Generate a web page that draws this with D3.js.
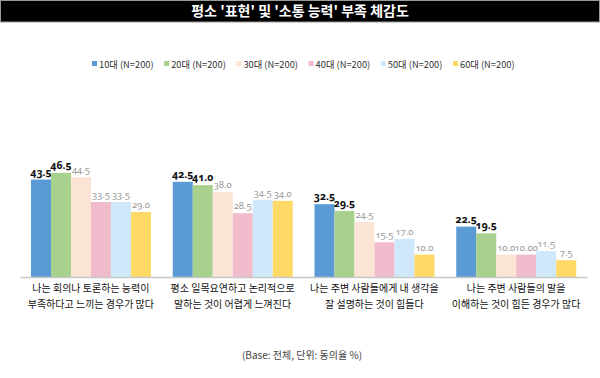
<!DOCTYPE html>
<html><head><meta charset="utf-8">
<script src="https://cdn.jsdelivr.net/npm/d3@7"></script>
<style>
html,body{margin:0;padding:0;background:#fff;}
svg{display:block;font-family:"Noto Sans CJK KR","Noto Sans",sans-serif;}
.val{font-family:"Noto Sans","Open Sans",sans-serif;font-variant-numeric:oldstyle-nums;font-feature-settings:"onum" 1;}
</style></head>
<body>
<svg id="c" width="600" height="378"></svg>
<script>
const title = "평소 '표현' 및 '소통 능력' 부족 체감도";
const categories = [
  ["나는 회의나 토론하는 능력이", "부족하다고 느끼는 경우가 많다"],
  ["평소 일목요연하고 논리적으로", "말하는 것이 어렵게 느껴진다"],
  ["나는 주변 사람들에게 내 생각을", "잘 설명하는 것이 힘들다"],
  ["나는 주변 사람들의 말을", "이해하는 것이 힘든 경우가 많다"]
];
const seriesNames = ["10대 (N=200)", "20대 (N=200)", "30대 (N=200)", "40대 (N=200)", "50대 (N=200)", "60대 (N=200)"];
const values10 = [43.5, 42.5, 32.5, 22.5];
const values20 = [46.5, 41.0, 29.5, 19.5];
const values30 = [44.5, 38.0, 24.5, 10.0];
const values40 = [33.5, 28.5, 15.5, 10.0];
const values50 = [33.5, 34.5, 17.0, 11.5];
const values60 = [29.0, 34.0, 10.0, 7.5];
const valueLabels40 = ["33.5", "28.5", "15.5", "10.00"];
const colors = ["#5b9bd5", "#a9d18e", "#fbe3d6", "#f0bccb", "#cfe8fb", "#ffd966"];
const footnote = "(Base: 전체, 단위: 동의율 %)";

const allSeries = [values10, values20, values30, values40, values50, values60];
const svg = d3.select("#c");

// title bar
svg.append("rect").attr("x", 0.5).attr("y", 0.5).attr("width", 599).attr("height", 21.5)
  .attr("fill", "#000").attr("stroke", "#999").attr("stroke-width", 1);
svg.append("text").attr("x", 300).attr("y", 16).attr("text-anchor", "middle")
  .attr("fill", "#fff").attr("font-size", 14).attr("font-weight", "bold").text(title);

// scales
const x0 = d3.scaleBand().domain(d3.range(categories.length)).range([20, 587]).padding(0);
const x1 = d3.scaleBand().domain(d3.range(seriesNames.length)).range([11, 131]).padding(0);
const y = d3.scaleLinear().domain([0, 50]).range([277, 165]);

// bars
const g = svg.append("g");
categories.forEach((c, ci) => {
  allSeries.forEach((vals, si) => {
    const v = vals[ci];
    const bx = x0(ci) + x1(si);
    g.append("rect").attr("x", bx).attr("y", y(v)).attr("width", x1.bandwidth()).attr("height", y(0) - y(v))
      .attr("fill", colors[si]);
    const lbl = si === 3 ? valueLabels40[ci] : v.toFixed(1);
    g.append("text").attr("class", "val").attr("x", bx + x1.bandwidth() / 2).attr("y", y(v) - 4)
      .attr("text-anchor", "middle")
      .attr("font-size", si < 2 ? 10.5 : 9.5)
      .attr("font-weight", si < 2 ? "bold" : "normal")
      .attr("fill", si < 2 ? "#111" : "#9a9a9a")
      .text(lbl);
  });
});

// axis line
const xAxis = d3.axisBottom(x0).tickSize(0).tickFormat("");
const ax = svg.append("g").attr("transform", `translate(0,${y(0)})`).call(xAxis);
ax.select(".domain").attr("stroke", "#c8c8c8").attr("stroke-width", 1.5);

// category labels
categories.forEach((c, ci) => {
  const cx = x0(ci) + x0.bandwidth() / 2;
  const t = svg.append("text").attr("text-anchor", "middle").attr("font-size", 10).attr("fill", "#111");
  t.append("tspan").attr("x", cx).attr("y", 292).text(c[0]);
  t.append("tspan").attr("x", cx).attr("y", 308).text(c[1]);
});

// legend
const lx = d3.scaleLinear().domain([0, 5]).range([92, 453]);
seriesNames.forEach((s, i) => {
  svg.append("rect").attr("x", lx(i)).attr("y", 61).attr("width", 5).attr("height", 5).attr("fill", colors[i]);
  svg.append("text").attr("x", lx(i) + 7).attr("y", 67.5).attr("font-size", 9.3).attr("fill", "#333").text(s);
});

// footnote
svg.append("text").attr("x", 302).attr("y", 359).attr("text-anchor", "middle")
  .attr("font-size", 10).attr("fill", "#444").text(footnote);
</script>
</body></html>
